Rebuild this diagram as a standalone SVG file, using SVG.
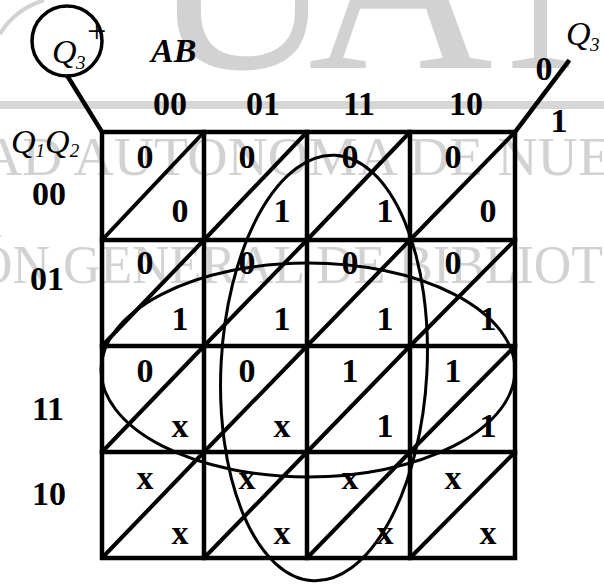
<svg xmlns="http://www.w3.org/2000/svg" width="604" height="584" viewBox="0 0 604 584">
<style>
.wm{fill:#d2d2d2;font-family:"Liberation Serif",serif}
.v{font-family:"Liberation Serif",serif;font-weight:bold;font-size:34px;fill:#000;text-anchor:middle}
.it{font-family:"Liberation Serif",serif;font-style:italic;font-size:34px;fill:#000}
.sub{font-size:19px}
.ln{stroke:#000;stroke-width:4.5;fill:none;stroke-linecap:square}
.dg{stroke:#000;stroke-width:4;fill:none}
.el{stroke:#000;stroke-width:3;fill:none}
</style>
<rect width="604" height="584" fill="#fff"/>
<g id="watermark">
<rect x="0" y="101" width="604" height="8" fill="#d6d6d6"/>
<path d="M0,34 Q14,10 44,0" stroke="#d2d2d2" stroke-width="4" fill="none"/>
<text class="wm" x="150" y="68" font-size="260" textLength="185" lengthAdjust="spacingAndGlyphs">U</text>
<text class="wm" x="308" y="68" font-size="260" textLength="185" lengthAdjust="spacingAndGlyphs">A</text>
<text class="wm" x="505" y="68" font-size="260" textLength="185" lengthAdjust="spacingAndGlyphs">N</text>
<text class="wm" x="-18" y="175" font-size="54" textLength="630" lengthAdjust="spacingAndGlyphs">AD AUTONOMA DE NUE</text>
<text class="wm" x="-25" y="283" font-size="54" textLength="628" lengthAdjust="spacingAndGlyphs">ÓN GENERAL DE BIBLIOT</text>
</g>
<g id="function-label">
<circle cx="67" cy="41" r="35" fill="none" stroke="#000" stroke-width="3.5"/>
<text class="it" x="52" y="63">Q</text>
<text class="it sub" x="76" y="69">3</text>
<text class="it" x="85" y="42" font-size="22">+</text>
</g>
<g id="labels">
<text class="it" x="151" y="62" font-weight="bold" font-size="32">AB</text>
<text class="v" x="170" y="115">00</text>
<text class="v" x="263" y="115">01</text>
<text class="v" x="359" y="115">11</text>
<text class="v" x="466" y="115">10</text>
<text class="it" x="11" y="153">Q<tspan class="sub" dy="4">1</tspan><tspan dy="-4">Q</tspan><tspan class="sub" dy="4">2</tspan></text>
<text class="v" x="49" y="205">00</text>
<text class="v" x="47" y="290">01</text>
<text class="v" x="48" y="420">11</text>
<text class="v" x="49" y="505">10</text>
<text class="it" x="566" y="45">Q</text>
<text class="it sub" x="590" y="51">3</text>
<text class="v" x="544" y="80">0</text>
<text class="v" x="559" y="132">1</text>
</g>
<g id="connectors">
<line class="ln" x1="68" y1="77" x2="102" y2="132"/>
<line class="ln" x1="515" y1="132" x2="568" y2="62"/>
</g>
<g id="grid">
<rect class="ln" x="102" y="132" width="413" height="426"/>
<line class="ln" x1="204" y1="132" x2="204" y2="558"/>
<line class="ln" x1="307" y1="132" x2="307" y2="558"/>
<line class="ln" x1="410" y1="132" x2="410" y2="558"/>
<line class="ln" x1="102" y1="240" x2="515" y2="240"/>
<line class="ln" x1="102" y1="346" x2="515" y2="346"/>
<line class="ln" x1="102" y1="452" x2="515" y2="452"/>
</g>
<g id="cell-00-00"><line class="dg" x1="102" y1="240" x2="204" y2="132"/><text class="v" x="145" y="168">0</text><text class="v" x="180" y="222">0</text></g>
<g id="cell-00-01"><line class="dg" x1="204" y1="240" x2="307" y2="132"/><text class="v" x="247" y="168">0</text><text class="v" x="282" y="222">1</text></g>
<g id="cell-00-11"><line class="dg" x1="307" y1="240" x2="410" y2="132"/><text class="v" x="350" y="168">0</text><text class="v" x="385" y="222">1</text></g>
<g id="cell-00-10"><line class="dg" x1="410" y1="240" x2="515" y2="132"/><text class="v" x="453" y="168">0</text><text class="v" x="488" y="222">0</text></g>
<g id="cell-01-00"><line class="dg" x1="102" y1="346" x2="204" y2="240"/><text class="v" x="145" y="274">0</text><text class="v" x="180" y="330">1</text></g>
<g id="cell-01-01"><line class="dg" x1="204" y1="346" x2="307" y2="240"/><text class="v" x="247" y="274">0</text><text class="v" x="282" y="330">1</text></g>
<g id="cell-01-11"><line class="dg" x1="307" y1="346" x2="410" y2="240"/><text class="v" x="350" y="274">0</text><text class="v" x="385" y="330">1</text></g>
<g id="cell-01-10"><line class="dg" x1="410" y1="346" x2="515" y2="240"/><text class="v" x="453" y="274">0</text><text class="v" x="488" y="330">1</text></g>
<g id="cell-11-00"><line class="dg" x1="102" y1="452" x2="204" y2="346"/><text class="v" x="145" y="382">0</text><text class="v" x="180" y="437">x</text></g>
<g id="cell-11-01"><line class="dg" x1="204" y1="452" x2="307" y2="346"/><text class="v" x="247" y="382">0</text><text class="v" x="282" y="437">x</text></g>
<g id="cell-11-11"><line class="dg" x1="307" y1="452" x2="410" y2="346"/><text class="v" x="350" y="382">1</text><text class="v" x="385" y="437">1</text></g>
<g id="cell-11-10"><line class="dg" x1="410" y1="452" x2="515" y2="346"/><text class="v" x="453" y="382">1</text><text class="v" x="488" y="437">1</text></g>
<g id="cell-10-00"><line class="dg" x1="102" y1="558" x2="204" y2="452"/><text class="v" x="145" y="489">x</text><text class="v" x="180" y="544">x</text></g>
<g id="cell-10-01"><line class="dg" x1="204" y1="558" x2="307" y2="452"/><text class="v" x="247" y="489">x</text><text class="v" x="282" y="544">x</text></g>
<g id="cell-10-11"><line class="dg" x1="307" y1="558" x2="410" y2="452"/><text class="v" x="350" y="489">x</text><text class="v" x="385" y="544">x</text></g>
<g id="cell-10-10"><line class="dg" x1="410" y1="558" x2="515" y2="452"/><text class="v" x="453" y="489">x</text><text class="v" x="488" y="544">x</text></g>
<g id="loop-vertical"><ellipse class="el" cx="324" cy="368" rx="103" ry="213" transform="rotate(3 324 368)"/></g>
<g id="loop-horizontal"><ellipse class="el" cx="308" cy="370" rx="207" ry="107"/></g>
</svg>
